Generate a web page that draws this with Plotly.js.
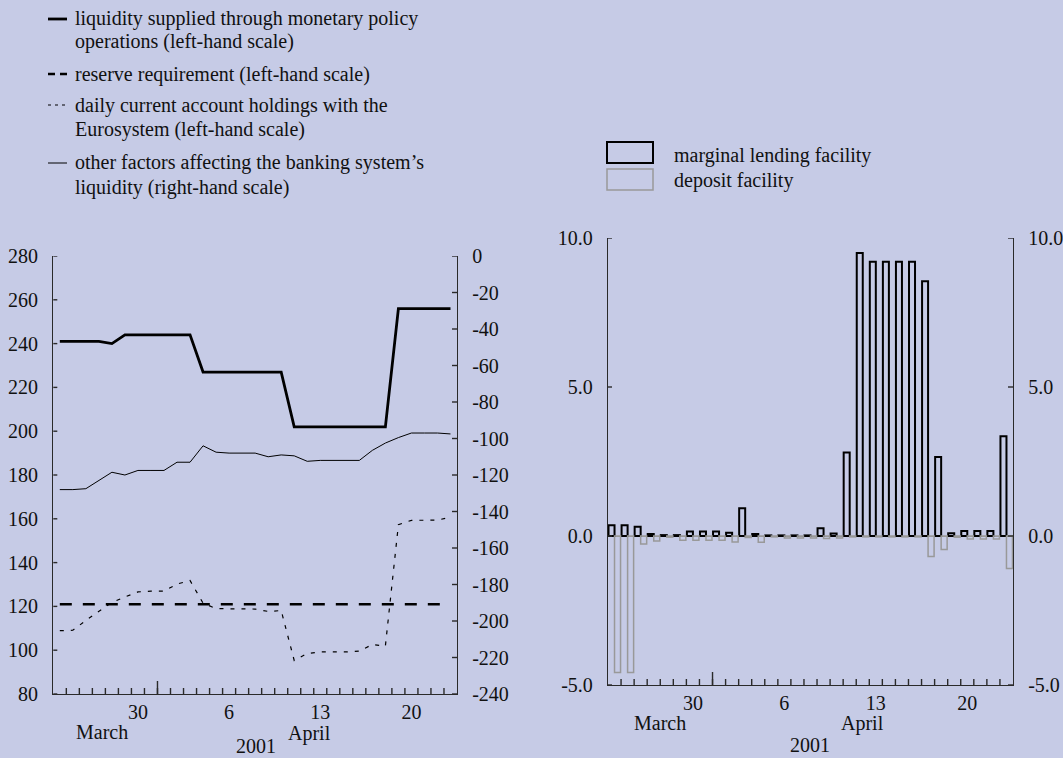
<!DOCTYPE html>
<html>
<head>
<meta charset="utf-8">
<script src="https://cdn.plot.ly/plotly-3.0.1.min.js"></script>
<style>
  html, body { margin: 0; padding: 0; background: #C6CBE6; }
  #chart { width: 1063px; height: 758px; }
</style>
</head>
<body>
<div id="chart"></div>
<script>
// ---------- data ----------
const dates = ['2001-03-24','2001-03-25','2001-03-26','2001-03-27','2001-03-28','2001-03-29','2001-03-30',
  '2001-03-31','2001-04-01','2001-04-02','2001-04-03','2001-04-04','2001-04-05','2001-04-06','2001-04-07',
  '2001-04-08','2001-04-09','2001-04-10','2001-04-11','2001-04-12','2001-04-13','2001-04-14','2001-04-15',
  '2001-04-16','2001-04-17','2001-04-18','2001-04-19','2001-04-20','2001-04-21','2001-04-22','2001-04-23'];

// left panel (EUR billions)
const liquiditySupplied = [241,241,241,241,240,244,244,244,244,244,244,227,227,227,227,227,227,227,
  202,202,202,202,202,202,202,202,256,256,256,256,256];
const reserveRequirement = [121,121,121,121,121,121,121,121,121,121,121,121,121,121,121,121,121,121,
  121,121,121,121,121,121,121,121,121,121,121,121,121];
const currentAccounts = [108.9,109.1,113.6,117.9,121.8,124.3,126.6,127,127,130.2,131.8,121.5,119,118.9,
  118.9,118.8,117.7,118.1,95.3,98.5,99.2,99.2,99.2,99.6,102.6,101.9,157.3,159.3,159.3,159.4,160.8];
const otherFactors = [-128,-128,-127.5,-123,-118.5,-120,-117.5,-117.5,-117.5,-113,-113,-104,-107.5,-108,
  -108,-108,-110,-109,-109.5,-112.5,-112,-112,-112,-112,-106.5,-102.5,-99.5,-97,-97,-97,-97.5];

// right panel (EUR billions)
const marginalLending = [0.36,0.36,0.31,0.07,0.03,0.03,0.15,0.15,0.15,0.11,0.93,0.07,0.02,0.02,0.02,0.02,
  0.26,0.08,2.8,9.5,9.2,9.2,9.2,9.2,8.55,2.65,0.09,0.17,0.17,0.17,3.35];
const depositFacility = [-4.58,-4.58,-0.27,-0.17,-0.04,-0.14,-0.14,-0.14,-0.14,-0.2,-0.05,-0.21,-0.03,-0.07,
  -0.07,-0.07,-0.08,-0.07,-0.03,-0.03,-0.03,-0.03,-0.03,-0.03,-0.69,-0.45,-0.04,-0.1,-0.1,-0.1,-1.09];

// tick labels
const xTickVals = ['2001-03-30','2001-04-06','2001-04-13','2001-04-20'];
const xTickText = ['30','6','13','20'];
const leftTickVals = [80,100,120,140,160,180,200,220,240,260,280];
const leftTickText = ['80','100','120','140','160','180','200','220','240','260','280'];
const rightTickVals = [-240,-220,-200,-180,-160,-140,-120,-100,-80,-60,-40,-20,0];
const rightTickText = ['-240','-220','-200','-180','-160','-140','-120','-100','-80','-60','-40','-20','0'];
const barTickVals = [-5,0,5,10];
const barTickText = ['-5.0','0.0','5.0','10.0'];
const monthBoundary = '2001-03-31 12:00';
const periodStartBoundary = '2001-03-23 12:00';
const periodEndBoundary = '2001-04-23 12:00';

const legendLeft = [
  'liquidity supplied through monetary policy',
  'operations (left-hand scale)',
  'reserve requirement (left-hand scale)',
  'daily current account holdings with the',
  'Eurosystem (left-hand scale)',
  'other factors affecting the banking system\u2019s',
  'liquidity (right-hand scale)'
];
const legendRight = ['marginal lending facility', 'deposit facility'];

// ---------- layout helpers ----------
const W = 1063, H = 758;
const X = px => px / W;
const Y = py => 1 - py / H;
const FONT = 'Liberation Serif, Times New Roman, serif';
const AX = '#2a2a2a';
const BG = '#C6CBE6';
const DAY = 86400000;
const xRange = [periodStartBoundary, periodEndBoundary];
const tickFont = {family: FONT, size: 20, color: '#111'};
// day-boundary tick positions derived from the dates
const dayBoundaries = dates.slice(0, -1).map(d => d + ' 12:00');

const leftDomPx = [53.3, 457], rightDomPx = [608, 1013];
const leftYPx = [256, 694], rightYPx = [238, 685];

function xAxis(domPx, anchor) {
  return {
    type: 'date', domain: [X(domPx[0]), X(domPx[1])], anchor: anchor, range: xRange,
    tickmode: 'array', tickvals: xTickVals, ticktext: xTickText,
    ticks: '', showgrid: false, zeroline: false,
    showline: true, linecolor: AX, linewidth: 1.2,
    ticklabelstandoff: 0, tickfont: tickFont, fixedrange: true
  };
}
function yAxis(opts) {
  return Object.assign({
    showgrid: false, zeroline: false, showline: true, linecolor: AX, linewidth: 1.2,
    ticks: '', tickmode: 'array', ticklabelstandoff: 10, tickfont: tickFont, fixedrange: true
  }, opts);
}

const traces = [
  {x: dates, y: liquiditySupplied, type: 'scatter', mode: 'lines', xaxis: 'x', yaxis: 'y',
   line: {color: '#000', width: 2.8}, name: legendLeft[0]},
  {x: dates, y: reserveRequirement, type: 'scatter', mode: 'lines', xaxis: 'x', yaxis: 'y',
   line: {color: '#000', width: 2.6, dash: '12px,11px'}, name: legendLeft[2]},
  {x: dates, y: currentAccounts, type: 'scatter', mode: 'lines', xaxis: 'x', yaxis: 'y',
   line: {color: '#000', width: 1.2, dash: '4px,7px'}, name: legendLeft[3]},
  {x: dates, y: otherFactors, type: 'scatter', mode: 'lines', xaxis: 'x', yaxis: 'y3',
   line: {color: '#000', width: 1}, name: legendLeft[5]},
  {x: dates, y: marginalLending, type: 'bar', xaxis: 'x2', yaxis: 'y2',
   width: 0.46 * DAY, offset: -0.46 * DAY,
   marker: {color: 'rgba(0,0,0,0)', line: {color: '#000', width: 2}}, name: legendRight[0]},
  {x: dates, y: depositFacility, type: 'bar', xaxis: 'x2', yaxis: 'y4',
   width: 0.46 * DAY, offset: 0,
   marker: {color: 'rgba(0,0,0,0)', line: {color: '#999', width: 1.5}}, name: legendRight[1]}
];

const shapes = [];
const annotations = [];
const tickLine = (o) => shapes.push(Object.assign({type: 'line', layer: 'above',
  line: {color: AX, width: 1.4}}, o));

// x-axis day ticks (inside) and month-boundary long ticks, positioned on the date axes
[['x', leftYPx[1]], ['x2', rightYPx[1]]].forEach(([xr, bottomPx]) => {
  dayBoundaries.forEach(b => tickLine({xref: xr, yref: 'paper', x0: b, x1: b,
    y0: Y(bottomPx), y1: Y(bottomPx - 6)}));
  tickLine({xref: xr, yref: 'paper', x0: monthBoundary, x1: monthBoundary,
    y0: Y(bottomPx), y1: Y(bottomPx - 13)});
});
// y-axis ticks (inside)
const lw = leftDomPx[1] - leftDomPx[0], rw = rightDomPx[1] - rightDomPx[0];
leftTickVals.forEach(v => tickLine({xref: 'x domain', yref: 'y', x0: 0, x1: 4 / lw, y0: v, y1: v}));
rightTickVals.forEach(v => tickLine({xref: 'x domain', yref: 'y3', x0: 1, x1: 1 - 5 / lw, y0: v, y1: v}));
barTickVals.forEach(v => {
  tickLine({xref: 'x2 domain', yref: 'y2', x0: 0, x1: 4 / rw, y0: v, y1: v});
  tickLine({xref: 'x2 domain', yref: 'y4', x0: 1, x1: 1 - 5 / rw, y0: v, y1: v});
});

// left legend symbols
const symRows = [
  {y: 19, width: 2.8, dash: 'solid'},
  {y: 74, width: 2.6, dash: '7px,5px'},
  {y: 105, width: 1.2, dash: '3px,4px'},
  {y: 163, width: 1, dash: 'solid'}
];
symRows.forEach(s => shapes.push({type: 'line', xref: 'paper', yref: 'paper',
  x0: X(48), x1: X(67), y0: Y(s.y), y1: Y(s.y), line: {color: '#000', width: s.width, dash: s.dash}}));
const rowsY = [19, 41, 74, 105, 130, 163, 188];
legendLeft.forEach((t, i) => annotations.push({xref: 'paper', yref: 'paper', x: X(73), y: Y(rowsY[i]),
  xanchor: 'left', yanchor: 'middle', text: t, showarrow: false, font: tickFont}));

// right legend boxes
shapes.push({type: 'rect', xref: 'paper', yref: 'paper', x0: X(607), x1: X(653), y0: Y(163), y1: Y(142),
  line: {color: '#000', width: 2}, fillcolor: 'rgba(0,0,0,0)'});
shapes.push({type: 'rect', xref: 'paper', yref: 'paper', x0: X(607), x1: X(653), y0: Y(190), y1: Y(169),
  line: {color: '#999', width: 1.5}, fillcolor: 'rgba(0,0,0,0)'});
[155, 181].forEach((yy, i) => annotations.push({xref: 'paper', yref: 'paper', x: X(672), y: Y(yy),
  xanchor: 'left', yanchor: 'middle', text: legendRight[i], showarrow: false, font: tickFont}));

// month / year labels
const lab = (t, x, y) => annotations.push({xref: 'paper', yref: 'paper', x: X(x), y: Y(y),
  xanchor: 'center', yanchor: 'middle', text: t, showarrow: false, font: tickFont});
lab('March', 102, 732); lab('April', 309, 733); lab('2001', 256, 746);
lab('March', 660, 723); lab('April', 862, 723); lab('2001', 810, 745);

const layout = {
  width: W, height: H, margin: {l: 0, r: 0, t: 0, b: 0},
  paper_bgcolor: BG, plot_bgcolor: BG, showlegend: false,
  font: {family: FONT, size: 20, color: '#111'},
  xaxis: xAxis(leftDomPx, 'y'),
  yaxis: yAxis({domain: [Y(leftYPx[1]), Y(leftYPx[0])], anchor: 'x', range: [80, 280],
    tickvals: leftTickVals, ticktext: leftTickText}),
  yaxis3: yAxis({overlaying: 'y', side: 'right', anchor: 'x', range: [-240, 0],
    tickvals: rightTickVals, ticktext: rightTickText}),
  xaxis2: xAxis(rightDomPx, 'y2'),
  yaxis2: yAxis({domain: [Y(rightYPx[1]), Y(rightYPx[0])], anchor: 'x2', range: [-5, 10],
    tickvals: barTickVals, ticktext: barTickText,
    zeroline: true, zerolinecolor: '#999', zerolinewidth: 1}),
  yaxis4: yAxis({overlaying: 'y2', side: 'right', anchor: 'x2', range: [-5, 10],
    tickvals: barTickVals, ticktext: barTickText}),
  shapes: shapes,
  annotations: annotations
};

Plotly.newPlot('chart', traces, layout, {displayModeBar: false, staticPlot: true});
</script>
</body>
</html>
